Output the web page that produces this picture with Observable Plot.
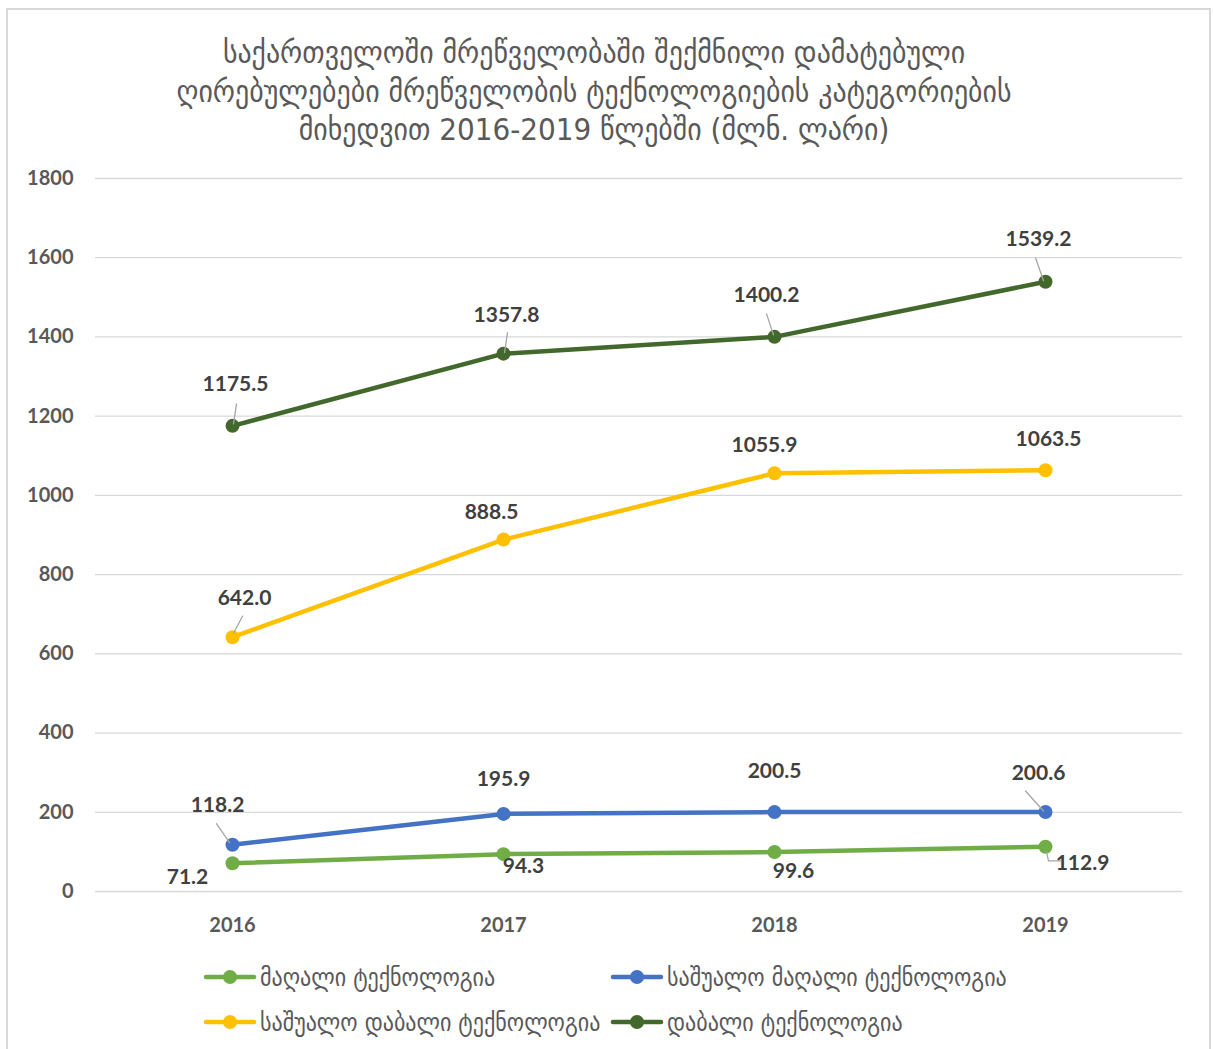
<!DOCTYPE html>
<html>
<head>
<meta charset="utf-8">
<script src="https://cdn.jsdelivr.net/npm/d3@7"></script>
<script src="https://cdn.jsdelivr.net/npm/@observablehq/plot@0.6"></script>
<style>
  html, body { margin: 0; padding: 0; background: #fff; }
  body { width: 1213px; height: 1049px; position: relative; overflow: hidden; }
  #frame { position: absolute; left: 6px; top: 8px; width: 1201px; height: 1100px; border: 2px solid #d9d9d9; }
  #title { position: absolute; left: 0; top: 33px; width: 1188px; text-align: center;
    font-family: "DejaVu Sans Condensed", "DejaVu Sans", sans-serif; font-size: 31px; line-height: 38.5px; color: #595959; }
  #chart { position: absolute; left: 0; top: 160px; }
  .leg { position: absolute; display: flex; align-items: center;
    font-family: "DejaVu Sans Condensed", "DejaVu Sans", sans-serif; font-size: 24.5px; color: #595959; }
  .leg svg { margin-right: 3px; }
</style>
</head>
<body>
<div id="frame"></div>
<div id="title"></div>
<div id="chart"></div>
<div id="legend"></div>
<script>
// ---- data ----
const titleLines = [
  "საქართველოში მრეწველობაში შექმნილი დამატებული",
  "ღირებულებები მრეწველობის ტექნოლოგიების კატეგორიების",
  "მიხედვით 2016-2019 წლებში (მლნ. ლარი)"
];
const years = ["2016", "2017", "2018", "2019"];
const seriesNames = ["მაღალი ტექნოლოგია", "საშუალო მაღალი ტექნოლოგია", "საშუალო დაბალი ტექნოლოგია", "დაბალი ტექნოლოგია"];
const highTech = [71.2, 94.3, 99.6, 112.9];
const mediumHighTech = [118.2, 195.9, 200.5, 200.6];
const mediumLowTech = [642.0, 888.5, 1055.9, 1063.5];
const lowTech = [1175.5, 1357.8, 1400.2, 1539.2];
const yTicks = [0, 200, 400, 600, 800, 1000, 1200, 1400, 1600, 1800];

// ---- styles / layout ----
const colors = ["#70AD47", "#4472C4", "#FFC000", "#43682B"];
const seriesValues = [highTech, mediumHighTech, mediumLowTech, lowTech];
// label pixel offsets [dx, dy] relative to point, per series per year
const labelOffsets = [
  [[-45, 14], [20, 12], [19, 19], [37, 16]],
  [[-15, -39], [0, -35], [0, -41], [-7, -39]],
  [[12, -39], [-12, -27], [-10, -28], [3, -31]],
  [[3, -42], [3, -38], [-8, -42], [-7, -43]]
];
// leader lines: series index, year index, polyline in pixel offsets from the point
const leaders = [
  [3, 0, [[1, -2], [4, -22]]],
  [3, 1, [[1, -1], [4, -21]]],
  [3, 2, [[-1, -2], [-8, -23]]],
  [3, 3, [[-2, -1], [-10, -24]]],
  [2, 0, [[1, -4], [10, -21]]],
  [1, 0, [[-3, -2], [-16, -21]]],
  [1, 3, [[-2, -1], [-20, -21]]],
  [0, 3, [[1, 5], [3, 14], [15, 14]]]
];

const data = seriesNames.flatMap((s, si) => years.map((y, i) => ({series: s, si, year: y, i, value: seriesValues[si][i]})));

document.getElementById("title").innerHTML = titleLines.map(t => `<div>${t}</div>`).join("");

const labelFont = {fontFamily: "Lato, 'Open Sans', sans-serif", fontWeight: "bold"};

const marks = [
  Plot.ruleY(yTicks, {stroke: "#d9d9d9", strokeWidth: 1.3})
];
seriesNames.forEach((s, si) => {
  const d = data.filter(r => r.si === si);
  marks.push(Plot.line(d, {x: "year", y: "value", stroke: colors[si], strokeWidth: 4.5, strokeLinecap: "round"}));
  marks.push(Plot.dot(d, {x: "year", y: "value", fill: colors[si], r: 7}));
});
leaders.forEach(([si, i, pts]) => {
  const d = data.filter(r => r.si === si && r.i === i);
  marks.push(Plot.vector(d, {
    x: "year", y: "value", length: 1, rotate: 0, anchor: "start",
    stroke: "#a6a6a6", strokeWidth: 1.3, fill: "none",
    shape: {draw(ctx) { ctx.moveTo(pts[0][0], pts[0][1]); for (let k = 1; k < pts.length; k++) ctx.lineTo(pts[k][0], pts[k][1]); }}
  }));
});
data.forEach(r => {
  const [dx, dy] = labelOffsets[r.si][r.i];
  marks.push(Plot.text([r], {x: "year", y: "value", text: v => v.value.toFixed(1), dx, dy,
    fill: "#404040", fontSize: 21, ...labelFont}));
});
marks.push(Plot.axisY(yTicks, {tickSize: 0, tickPadding: 22, tickFormat: d => String(d), fontSize: 20, fill: "#595959", ...labelFont}));
marks.push(Plot.axisX({tickSize: 0, tickPadding: 26, fontSize: 20, fill: "#595959", ...labelFont}));

const chart = Plot.plot({
  width: 1213,
  height: 790,
  marginLeft: 95,
  marginRight: 31,
  marginTop: 18,
  marginBottom: 59,
  x: {type: "point", domain: years, padding: 0.5, label: null},
  y: {domain: [0, 1800], label: null},
  style: {background: "transparent", overflow: "visible"},
  marks
});
document.getElementById("chart").appendChild(chart);

// legend
const legendPos = [[205, 977], [612, 977], [205, 1022], [612, 1022]];
const legend = document.getElementById("legend");
seriesNames.forEach((s, si) => {
  const el = document.createElement("div");
  el.className = "leg";
  el.style.left = (legendPos[si][0] - 2) + "px";
  el.style.top = (legendPos[si][1] - 15) + "px";
  el.innerHTML = `<svg width="54" height="30"><line x1="3" y1="15" x2="51" y2="15" stroke="${colors[si]}" stroke-width="4.5" stroke-linecap="round"/><circle cx="27" cy="15" r="7" fill="${colors[si]}"/></svg><span>${s}</span>`;
  legend.appendChild(el);
});
</script>
</body>
</html>
